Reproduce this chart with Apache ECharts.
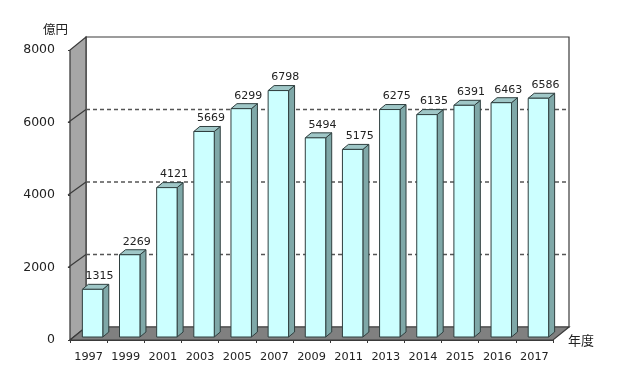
<!DOCTYPE html>
<html><head><meta charset="utf-8">
<script src="https://cdn.jsdelivr.net/npm/echarts@6/dist/echarts.min.js"></script>
<style>html,body{margin:0;padding:0;background:#fff}#c{width:621px;height:389px}</style>
</head><body><div id="c"></div>
<script>
var categories = ['1997','1999','2001','2003','2005','2007','2009','2011','2013','2014','2015','2016','2017'];
var values = [1315,2269,4121,5669,6299,6798,5494,5175,6275,6135,6391,6463,6586];
var yTicks = [0,2000,4000,6000,8000];

var DX = 16, DY = -13;       // wall depth
var SX = 4, SY = -3;         // bar offset from front plane
var BX = 6, BY = -5;         // bar depth
var LINE = '#3a3a3a';

var chart = echarts.init(document.getElementById('c'), null, {renderer:'canvas'});

function frameItem(params, api) {
  var cs = params.coordSys;
  var x0 = cs.x, y0 = cs.y, w = cs.width, h = cs.height;
  var ch = [];
  ch.push({type:'rect', shape:{x:x0+DX, y:y0+DY, width:w, height:h},
    style:{fill:'#ffffff', stroke:LINE, lineWidth:1.2}});
  ch.push({type:'polygon', shape:{points:[[x0,y0+h],[x0,y0],[x0+DX,y0+DY],[x0+DX,y0+h+DY]]},
    style:{fill:'#a6a6a6', stroke:LINE, lineWidth:1.2}});
  for (var i = 1; i < yTicks.length - 1; i++) {
    var y = api.coord([0, yTicks[i]])[1];
    ch.push({type:'line', shape:{x1:x0+DX, y1:y+DY, x2:x0+w+DX, y2:y+DY},
      style:{stroke:'#555', lineWidth:1.3, lineDash:[4,3]}});
    ch.push({type:'line', shape:{x1:x0-2, y1:y, x2:x0+DX, y2:y+DY},
      style:{stroke:LINE, lineWidth:1.2}});
  }
  ch.push({type:'polygon', shape:{points:[[x0,y0+h],[x0+w,y0+h],[x0+w+DX,y0+h+DY],[x0+DX,y0+h+DY]]},
    style:{fill:'#808080', stroke:LINE, lineWidth:1.2}});
  return {type:'group', children:ch};
}

function barItem(params, api) {
  var idx = api.value(0), val = api.value(1);
  var base = api.coord([idx, 0]);
  var top = api.coord([idx, val]);
  var band = api.size([1, 0])[0];
  var bw = band * 0.55;
  var xl = base[0] - bw/2 + SX, xr = xl + bw;
  var yt = top[1] + SY, yb = base[1] + SY;
  return {type:'group', children:[
    {type:'polygon', shape:{points:[[xr,yt],[xr+BX,yt+BY],[xr+BX,yb+BY],[xr,yb]]},
      style:{fill:'#7fa8a8', stroke:'#2f3f3f', lineWidth:1}},
    {type:'polygon', shape:{points:[[xl,yt],[xl+BX,yt+BY],[xr+BX,yt+BY],[xr,yt]]},
      style:{fill:'#9fc7c7', stroke:'#2f3f3f', lineWidth:1}},
    {type:'rect', shape:{x:xl, y:yt, width:bw, height:yb-yt},
      style:{fill:'#ccffff', stroke:'#2f3f3f', lineWidth:1}},
    {type:'text', x:(xl+xr)/2 + 7, y:yt - 13,
      style:{text:String(val), fill:'#222', font:'11px "DejaVu Sans"', align:'center', verticalAlign:'middle'}}
  ]};
}

chart.setOption({
  animation:false,
  grid:{left:70, top:50, width:483, height:290},
  xAxis:{type:'category', data:categories, boundaryGap:true,
    name:'年度', nameLocation:'end', nameGap:15,
    nameTextStyle:{fontFamily:'Noto Sans CJK JP', fontSize:13, color:'#222', padding:[12,0,0,0]},
    axisLine:{lineStyle:{color:LINE, width:1.2}},
    axisTick:{show:true, length:3, interval:0, lineStyle:{color:LINE}},
    axisLabel:{fontFamily:'DejaVu Sans', fontSize:11.3, color:'#222', margin:12, interval:0},
    splitLine:{show:false}, z:5},
  yAxis:{type:'value', min:0, max:8000, interval:2000,
    name:'億円', nameLocation:'end', nameGap:14,
    nameTextStyle:{fontFamily:'Noto Sans CJK JP', fontSize:12.5, color:'#222', align:'right', padding:[0,2,0,0]},
    axisLine:{show:true, lineStyle:{color:LINE, width:1.2}},
    axisTick:{show:true, length:2, lineStyle:{color:LINE}},
    axisLabel:{fontFamily:'DejaVu Sans', fontSize:12.5, color:'#222', margin:15,
      formatter:function(v){return String(v);}},
    splitLine:{show:false}},
  series:[
    {type:'custom', renderItem:frameItem, data:[[0,0]], z:1, silent:true},
    {type:'custom', renderItem:barItem, z:3,
      data: values.map(function(v,i){return [i, v];})}
  ]
});
</script></body></html>
